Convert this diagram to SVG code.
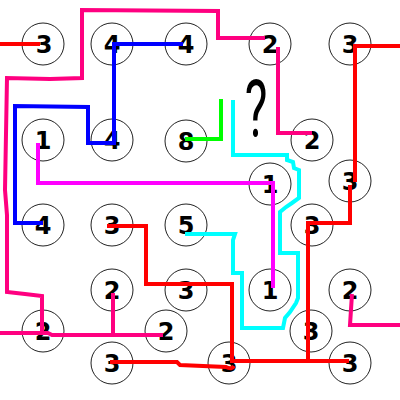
<svg xmlns="http://www.w3.org/2000/svg" width="400" height="400" viewBox="0 0 400 400">
<style>
.n circle{fill:none;stroke:#222;stroke-width:1}
.n text{font-family:"DejaVu Sans",sans-serif;font-weight:bold;font-size:24px;text-anchor:middle;fill:#000}
.c path{fill:none;stroke-width:4;stroke-linejoin:miter;stroke-linecap:butt}
.red{stroke:#ff0000}.pink{stroke:#ff0080}.blue{stroke:#0000ff}.green{stroke:#00ff00}.mag{stroke:#ff00ff}.cyan{stroke:#00ffff}
</style>
<rect width="400" height="400" fill="#fff"/>
<g id="nodes">
<g id="n1" class="n"><circle cx="43" cy="44" r="21"/><text x="44" y="53">3</text></g>
<g id="n2" class="n"><circle cx="112" cy="44" r="21"/><text x="112" y="53">4</text></g>
<g id="n3" class="n"><circle cx="186" cy="44" r="21"/><text x="186" y="53">4</text></g>
<g id="n4" class="n"><circle cx="270" cy="44" r="21"/><text x="270" y="53">2</text></g>
<g id="n5" class="n"><circle cx="350" cy="44" r="21"/><text x="350" y="53">3</text></g>
<g id="n6" class="n"><circle cx="43" cy="140" r="21"/><text x="43" y="149">1</text></g>
<g id="n7" class="n"><circle cx="112" cy="140" r="21"/><text x="112" y="149">4</text></g>
<g id="n8" class="n"><circle cx="186" cy="141" r="21"/><text x="186" y="150">8</text></g>
<g id="n9" class="n"><circle cx="312" cy="140" r="21"/><text x="312" y="149">2</text></g>
<g id="n10" class="n"><circle cx="270" cy="184" r="21"/><text x="270" y="193">1</text></g>
<g id="n11" class="n"><circle cx="350" cy="181" r="21"/><text x="350" y="190">3</text></g>
<g id="n12" class="n"><circle cx="43" cy="225" r="21"/><text x="43" y="234">4</text></g>
<g id="n13" class="n"><circle cx="112" cy="225" r="21"/><text x="112" y="234">3</text></g>
<g id="n14" class="n"><circle cx="186" cy="225" r="21"/><text x="186" y="234">5</text></g>
<g id="n15" class="n"><circle cx="312" cy="225" r="21"/><text x="312" y="234">3</text></g>
<g id="n16" class="n"><circle cx="112" cy="290" r="21"/><text x="112" y="299">2</text></g>
<g id="n17" class="n"><circle cx="186" cy="290" r="21"/><text x="186" y="299">3</text></g>
<g id="n18" class="n"><circle cx="270" cy="290" r="21"/><text x="270" y="299">1</text></g>
<g id="n19" class="n"><circle cx="350" cy="290" r="21"/><text x="350" y="299">2</text></g>
<g id="n20" class="n"><circle cx="43" cy="331" r="21"/><text x="43" y="340">2</text></g>
<g id="n21" class="n"><circle cx="166" cy="331" r="21"/><text x="166" y="340">2</text></g>
<g id="n22" class="n"><circle cx="311" cy="331" r="21"/><text x="311" y="340">3</text></g>
<g id="n23" class="n"><circle cx="112" cy="363" r="21"/><text x="112" y="372">3</text></g>
<g id="n24" class="n"><circle cx="229" cy="363" r="21"/><text x="229" y="372">3</text></g>
<g id="n25" class="n"><circle cx="350" cy="363" r="21"/><text x="350" y="372">3</text></g>
</g>
<g id="connectors" class="c">
<path class="red" d="M0,44 H40"/>
<path class="pink" d="M265,38 H218 V11 L82,10 V78 L50,79 L7,78 L5,190 L7,215 V292 L25,294 L42,296 V333"/>
<path class="pink" d="M0,333 H48 L52,335 H163"/>
<path class="pink" d="M113,293 V335"/>
<path class="pink" d="M278,47 V133 H312"/>
<path class="pink" d="M352,294 L350,325 H400"/>
<path class="blue" d="M43,223 H15 V106 L88,107 V143 H114 V44 H183"/>
<path class="green" d="M185,139 H221 V99"/>
<path class="mag" d="M38,143 V183 H273 V288"/>
<path class="cyan" d="M185,234 H235 L233,240 V273 H242 V328 H283 L285,318 L290,312 L296,303 L298,298 V253 H280 V212 L286,207 L292,203 L299,198 V170 L294,168 L293,162 L287,160 V155 H233 V100"/>
<path class="red" d="M400,46 H355 V182"/>
<path class="red" d="M350,185 V223 H308 V362"/>
<path class="red" d="M230,361 H349"/>
<path class="red" d="M107,226 H146 V284 H232 V361"/>
<path class="red" d="M110,362 H177 L180,365 L226,367 Q232,370 234,366"/>
</g>
<text transform="translate(256,137) scale(0.6,1)" font-family="Roboto, sans-serif" font-weight="400" font-size="80" text-anchor="middle" fill="#000">?</text>
</svg>
